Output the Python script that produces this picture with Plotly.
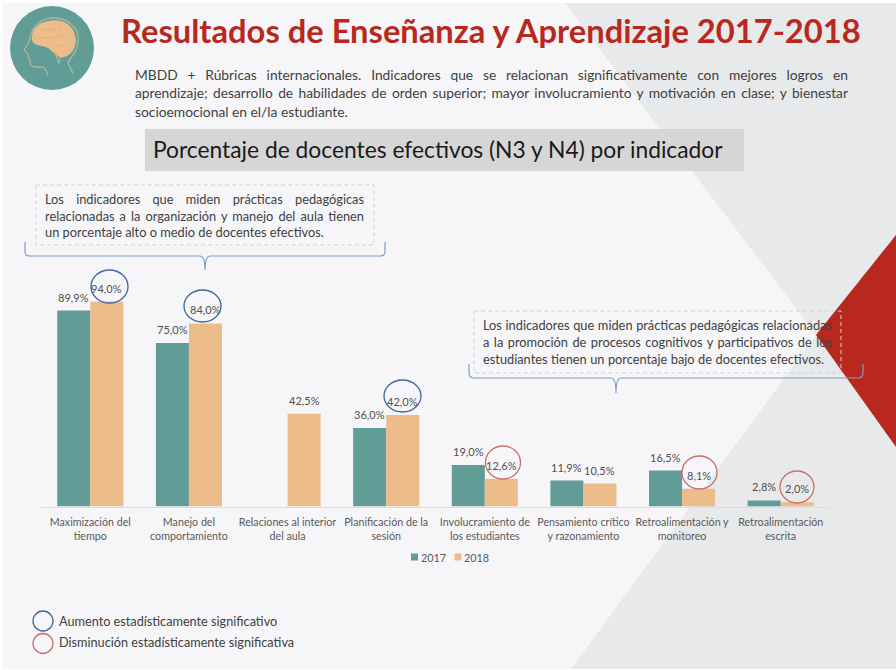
import json
import plotly.graph_objects as go

W, H = 896, 670
categories = ["Maximización del<br>tiempo", "Manejo del<br>comportamiento", "Relaciones al interior<br>del aula",
              "Planificación de la<br>sesión", "Involucramiento de<br>los estudiantes", "Pensamiento crítico<br>y razonamiento",
              "Retroalimentación y<br>monitoreo", "Retroalimentación<br>escrita"]
values_2017 = [89.9, 75.0, None, 36.0, 19.0, 11.9, 16.5, 2.8]
values_2018 = [94.0, 84.0, 42.5, 42.0, 12.6, 10.5, 8.1, 2.0]
series_names = ["2017", "2018"]
TEAL, PEACH, RED, BLUE_C, RED_C = "#619c97", "#ecbd8b", "#b8281e", "#41659b", "#c9706a"
FONT = "Lato"

# Chart area in pixels
PL, PR, PT, PB = 41.0, 830.0, 230.0, 506.5
PX_PER_UNIT = 2.18
ymax = (PB - PT) / PX_PER_UNIT
BARGAP = 0.33


def fx(p):
    return p / W


def fy(p):
    return 1 - p / H


def label(v):
    return f"{v:.1f}%".replace(".", ",")


fig = go.Figure()
for name, vals, col in [(series_names[0], values_2017, TEAL), (series_names[1], values_2018, PEACH)]:
    fig.add_trace(go.Bar(name=name, x=list(range(len(categories))), y=vals, marker=dict(color=col, line_width=0), showlegend=False))

shapes = []


def poly(pts, fill, layer="below", line=None):
    d = "M" + " L".join(f"{fx(x):.5f},{fy(y):.5f}" for x, y in pts) + " Z"
    shapes.append(dict(type="path", xref="paper", yref="paper", path=d, fillcolor=fill, line=line or dict(width=0), layer=layer))


def rect(x0, y0, x1, y1, fill=None, line=None, layer="below"):
    shapes.append(dict(type="rect", xref="paper", yref="paper", x0=fx(x0), x1=fx(x1), y0=fy(y0), y1=fy(y1),
                       fillcolor=fill or "rgba(0,0,0,0)", line=line or dict(width=0), layer=layer))


def ell(cx, cy, rx, ry, color=None, fill=None, width=1.3, layer="above"):
    shapes.append(dict(type="circle", xref="paper", yref="paper", x0=fx(cx - rx), x1=fx(cx + rx), y0=fy(cy - ry), y1=fy(cy + ry),
                       fillcolor=fill or "rgba(0,0,0,0)", line=dict(color=color, width=width) if color else dict(width=0), layer=layer))


def curve(d_tokens, color, width=1.2, fill=None, layer="below"):
    out = []
    for t in d_tokens:
        if isinstance(t, str):
            out.append(t)
        else:
            out.append(f"{fx(t[0]):.5f},{fy(t[1]):.5f}")
    shapes.append(dict(type="path", xref="paper", yref="paper", path=" ".join(out), line=dict(color=color, width=width),
                       fillcolor=fill or "rgba(0,0,0,0)", layer=layer))


# background
rect(3, 3, 896, 669, fill="#f6f6f9")
poly([(565, 3), (896, 3), (896, 669), (571, 669), (816, 335)], "#e8e9eb")
poly([(896, 235), (816, 335), (896, 447)], RED)
# title band
rect(145, 129, 744, 171, fill="#d6d6d6")
# icon
ell(52, 48, 42, 42, fill=TEAL, layer="below")
OUT = "#a9b9a0"
curve(["M", (29, 42), "C", (31, 25), (42, 18), (54, 18), "C", (68, 18), (78, 28), (78, 38), "C", (79, 50), (72, 56), (68, 62),
       "C", (69, 67), (72, 70), (73, 74)], OUT, 1.3)
curve(["M", (29, 42), "L", (24, 50), "L", (28, 54), "L", (28, 57), "L", (30, 60), "C", (29, 65), (32, 67), (36, 67),
       "L", (43, 67), "C", (46, 69), (47, 72), (48, 76)], OUT, 1.3)
curve(["M", (32, 40), "C", (31, 30), (38, 22), (50, 21), "C", (62, 19), (72, 25), (74, 33), "C", (78, 42), (74, 52), (68, 55),
       "C", (64, 58), (58, 58), (56, 54), "C", (52, 52), (50, 48), (46, 47), "C", (42, 45), (34, 46), (32, 40), "Z"], PEACH, 0.5, fill=PEACH)
curve(["M", (55, 53), "L", (59, 63), "L", (60, 57)], OUT, 1.1)
BF = "#dca874"
curve(["M", (40, 30), "C", (46, 27), (50, 32), (56, 29)], BF, 0.6)
curve(["M", (38, 39), "C", (44, 36), (50, 40), (56, 37), "C", (60, 35), (64, 38), (68, 34)], BF, 0.6)
curve(["M", (58, 26), "C", (60, 30), (62, 30), (62, 34)], BF, 0.6)
curve(["M", (56, 46), "C", (60, 44), (64, 48), (70, 44)], BF, 0.6)
# dashed boxes
dash = dict(color="#d2d2d2", width=1, dash="4px,3px")
rect(36, 185, 374, 245, line=dash)
rect(474, 311, 841, 373, line=dash, layer="above")
# brackets
br = "#7f9cc6"
curve(["M", (25, 242), "L", (25, 252), "Q", (25, 256), (30, 256), "L", (200, 256), "Q", (205, 256), (205, 270), "Q", (205, 256), (210, 256),
       "L", (380, 256), "Q", (385, 256), (385, 252), "L", (385, 242)], br, 1.2)
curve(["M", (469, 364), "L", (469, 373), "Q", (469, 378), (474, 378), "L", (611, 378), "Q", (616, 378), (616, 393), "Q", (616, 378), (621, 378),
       "L", (858, 378), "Q", (863, 378), (863, 373), "L", (863, 364)], br, 1.2, layer="above")
# significance circles
for cx, cy, rx, ry in [(109.5, 286.5, 18.5, 16.5), (202.5, 306, 18.5, 16), (402.5, 396, 18.5, 16)]:
    ell(cx, cy, rx, ry, BLUE_C)
for cx, cy, rx, ry in [(503, 462.5, 17.5, 16.5), (699.5, 472.5, 17.5, 16.5), (797, 487, 17, 16)]:
    ell(cx, cy, rx, ry, RED_C)
ell(43, 621, 10, 10, BLUE_C)
ell(43, 643.5, 10, 10, RED_C)
# legend swatches
rect(411, 553.5, 418, 560.5, fill=TEAL)
rect(454.5, 553.5, 461.5, 560.5, fill=PEACH)

annotations = []

# data labels, placed from the data
half = (1 - BARGAP) / 4
for sign, vals in [(-1, values_2017), (1, values_2018)]:
    for i, v in enumerate(vals):
        if v is None:
            continue
        annotations.append(dict(xref="x", yref="y", x=i + sign * half, y=v, text=label(v), showarrow=False, yanchor="bottom", yshift=5,
                                font=dict(family=FONT, size=11, color="#505050")))


def txt(x, y, s, size, color="#404040", bold=False, anchor="left"):
    annotations.append(dict(xref="paper", yref="paper", x=fx(x - 2), y=fy(y), text=f"<b>{s}</b>" if bold else s, showarrow=False,
                            xanchor=anchor, yanchor="middle", align=anchor, font=dict(family=FONT, size=size, color=color)))


justify = {}


def jtxt(x0, x1, y, s, size, color="#404040"):
    txt(x0, y, s, size, color)
    justify[s] = x1 - x0


txt(121, 30, "Resultados de Enseñanza y Aprendizaje 2017-2018", 32.7, RED, bold=True)
jtxt(135, 848, 74, "MBDD + Rúbricas internacionales. Indicadores que se relacionan significativamente con mejores logros en", 13.8)
jtxt(135, 848, 92.5, "aprendizaje; desarrollo de habilidades de orden superior; mayor involucramiento y motivación en clase; y bienestar", 13.8)
txt(135, 111, "socioemocional en el/la estudiante.", 13.8)
txt(153, 149, "Porcentaje de docentes efectivos (N3 y N4) por indicador", 22.8, "#1a1a1a")
jtxt(45, 364, 199, "Los indicadores que miden prácticas pedagógicas", 12.8)
jtxt(45, 364, 216, "relacionadas a la organización y manejo del aula tienen", 12.8)
txt(45, 232, "un porcentaje alto o medio de docentes efectivos.", 12.8)
jtxt(483, 832, 325, "Los indicadores que miden prácticas pedagógicas relacionadas", 12.8)
jtxt(483, 832, 342, "a la promoción de procesos cognitivos y participativos de los", 12.8)
jtxt(483, 824, 359, "estudiantes tienen un porcentaje bajo de docentes efectivos.", 12.8)
txt(421, 557, series_names[0], 10.8, "#595959")
txt(464, 557, series_names[1], 10.8, "#595959")
txt(59, 621, "Aumento estadísticamente significativo", 12.7)
txt(59, 642, "Disminución estadísticamente significativa", 12.7)

fig.update_layout(
    width=W, height=H, margin=dict(l=0, r=0, t=0, b=0), paper_bgcolor="white", plot_bgcolor="rgba(0,0,0,0)",
    barmode="group", bargap=BARGAP, bargroupgap=0, showlegend=False, font=dict(family=FONT),
    xaxis=dict(domain=[fx(PL), fx(PR)], range=[-0.5, 7.5], tickmode="array", tickvals=list(range(len(categories))), ticktext=categories,
               showgrid=False, zeroline=False, showline=True, linecolor="#dcdcdc", linewidth=1,
               ticks="outside", ticklen=6, tickcolor="rgba(0,0,0,0)",
               tickfont=dict(size=10.7, color="#595959", family=FONT), tickangle=0),
    yaxis=dict(domain=[fy(PB), fy(PT)], range=[0, ymax], visible=False, showgrid=False, zeroline=False),
    shapes=shapes, annotations=annotations,
)

post = """
document.body.style.margin='0';
var J=%s;
function runJ(){
 document.querySelectorAll('.annotation-text').forEach(function(t){
  var s=t.textContent; if(!(s in J)) return;
  t.style.wordSpacing='0px';
  var n=(s.match(/ /g)||[]).length, w=t.getComputedTextLength();
  t.style.wordSpacing=((J[s]-w)/n)+'px';
 });
}
runJ(); setTimeout(runJ,100);
""" % json.dumps(justify, ensure_ascii=False)

fig.write_html("out.html", post_script=post, config=dict(displayModeBar=False))
